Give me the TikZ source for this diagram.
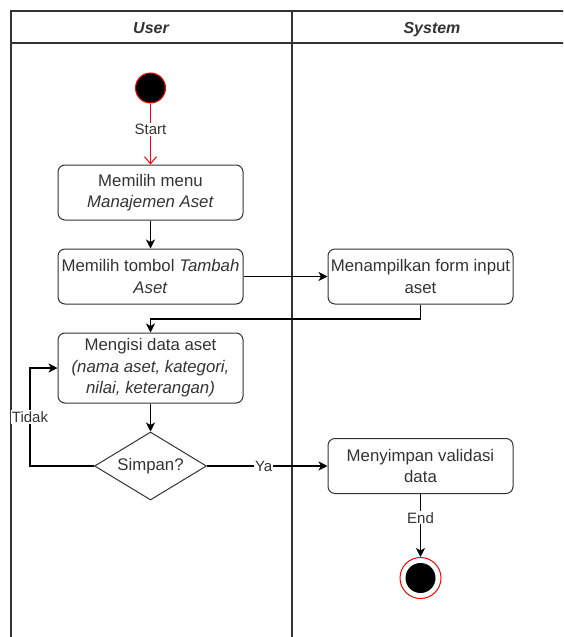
\documentclass[tikz,border=0pt]{standalone}
\usepackage{fontspec}
\setmainfont{Liberation Sans}
\usetikzlibrary{arrows.meta,shapes.geometric}
\definecolor{ink}{HTML}{333333}
\begin{document}
\begin{tikzpicture}[x=1pt,y=-1pt,
  box/.style={draw=ink, rounded corners=7pt, line width=1pt, minimum width=185pt,
    minimum height=55pt, align=center, inner sep=1pt, text=ink,
    font=\fontsize{16.8}{21.5}\selectfont},
  dec/.style={draw=ink, diamond, line width=1pt, minimum width=112pt, minimum height=68pt,
    inner sep=0pt, aspect=1.65, text=ink, font=\fontsize{16.8}{20}\selectfont},
  arr/.style={draw=black, line width=1.1pt, -{Stealth[length=9pt,width=9pt,inset=2.5pt]}},
  lbl/.style={fill=white, text=ink, inner sep=1pt, font=\fontsize{15}{18}\selectfont},
  lane/.style={draw=ink, line width=1.3pt},
  hdr/.style={text=ink, anchor=base, font=\fontsize{16}{19}\selectfont\bfseries\itshape}
]
\useasboundingbox (0,0) rectangle (563,637);
\clip (0,0) rectangle (563,637);
% swimlanes
\draw[lane] (11,660) -- (11,11) -- (580,11);
\draw[lane] (11,43) -- (580,43);
\draw[lane] (292,11) -- (292,660);
\node[hdr] (hu) at (151,33) {User};
\node[hdr] (hs) at (432,33) {System};
% nodes
\node[circle, draw=red, fill=black, line width=1pt, minimum size=30pt, inner sep=0pt] (start) at (150.5,88) {};
\node[box] (b1) at (150.5,192.5) {Memilih menu\\\textit{Manajemen Aset}};
\node[box] (b2) at (150.5,276.5) {Memilih tombol \textit{Tambah}\\\textit{Aset}};
\node[box] (b3) at (420.5,276.5) {Menampilkan form input\\aset};
\node[box, minimum height=70pt] (b4) at (150.5,368) {Mengisi data aset\\\textit{(nama aset, kategori,}\\\textit{nilai, keterangan)}};
\node[dec] (d) at (150.5,466) {Simpan?};
\node[box] (b5) at (420.5,466) {Menyimpan validasi\\data};
\node[circle, draw=red, fill=white, line width=1pt, minimum size=41pt, inner sep=0pt] (end) at (420.5,578) {};
\node[circle, fill=black, minimum size=30pt, inner sep=0pt] (endin) at (end.center) {};
\coordinate (j) at (150.5,319);
\coordinate (lp) at (30,0);
% connectors
\draw[red, line width=1pt, -{Straight Barb[length=7pt,width=12pt]}] (start) -- node[lbl, pos=0.43] {Start} (b1);
\draw[arr] (b1) -- (b2);
\draw[arr] (b2) -- (b3);
\draw[arr] (b3.south) |- (j) -- (b4.north);
\draw[arr] (b4) -- (d);
\draw[arr] (d.west) -- (d.west -| lp) |- node[lbl, pos=0.25] {Tidak} (b4.west);
\draw[arr] (d.east) -- node[lbl, pos=0.47] {Ya} (b5.west);
\draw[arr] (b5) -- node[lbl, pos=0.38] {End} (end);
\end{tikzpicture}
\end{document}
